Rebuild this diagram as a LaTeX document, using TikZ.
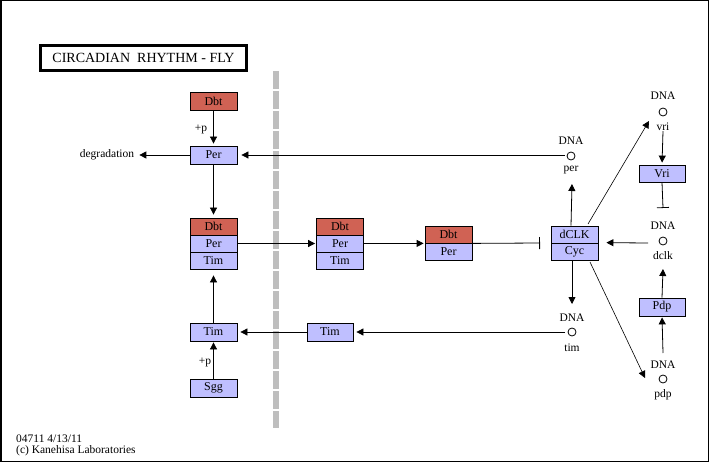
\documentclass[tikz,border=0pt]{standalone}
\usepackage{fontspec}
\setmainfont{Liberation Serif}
\usetikzlibrary{arrows.meta}
\definecolor{kred}{RGB}{208,98,84}
\definecolor{klav}{RGB}{191,191,255}
\definecolor{kgray}{RGB}{190,190,190}
\begin{document}
\begin{tikzpicture}[x=1pt,y=-1pt,
  gbox/.style={draw, line width=0.8pt, minimum width=47pt, minimum height=17pt, inner sep=0pt, font=\fontsize{12}{12}\selectfont, fill=klav},
  rbox/.style={gbox, fill=kred},
  lab/.style={font=\fontsize{11.5}{12}\selectfont, inner sep=0pt},
  dna/.style={circle, draw, line width=0.8pt, fill=white, minimum size=8pt, inner sep=0pt},
  arr/.style={-{Triangle[length=7pt,width=7pt]}, line width=0.8pt, shorten >=2pt},
  inh/.style={-{Bar[width=12pt]}, line width=0.8pt}]
\useasboundingbox (0,0) rectangle (709,462);
\draw[line width=1.5pt] (0.75,0.75) rectangle (708.25,461.25);
% title
\node[draw, line width=3pt, minimum width=206pt, minimum height=25pt, inner sep=0pt, font=\fontsize{14}{14}\selectfont] (title) at (143.5,58) {CIRCADIAN\ \ RHYTHM - FLY};
% membrane bar
\draw[kgray, line width=6pt, dash pattern=on 18pt off 2pt] (276,71) -- (276,428);
% left column
\node[rbox, minimum height=18pt] (dbt0) at (213.5,101) {Dbt};
\node[gbox, minimum height=18pt] (per0) at (213.5,155) {Per};
\node[lab] (p1) at (201,129) {+p};
\node[lab] (deg) at (107,155) {degradation};
\node[rbox] (c1d) at (213.5,226.5) {Dbt};
\node[gbox] (c1p) at (213.5,243.5) {Per};
\node[gbox] (c1t) at (213.5,260.5) {Tim};
\node[gbox, minimum height=18pt] (timl) at (213.5,332) {Tim};
\node[lab] (p2) at (205,362) {+p};
\node[gbox, minimum height=18pt] (sgg) at (213.5,388) {Sgg};
% middle
\node[rbox] (c2d) at (340,226.5) {Dbt};
\node[gbox] (c2p) at (340,243.5) {Per};
\node[gbox] (c2t) at (340,260.5) {Tim};
\node[gbox, minimum height=18pt, minimum width=46pt] (timm) at (330,332) {Tim};
\node[rbox] (c3d) at (448.5,234.5) {Dbt};
\node[gbox] (c3p) at (448.5,251.5) {Per};
\node[gbox] (clk) at (574.5,234.5) {dCLK};
\node[gbox] (cyc) at (574.5,251.5) {Cyc};
% DNA per
\node[dna] (cper) at (571,156) {};
\node[lab] (dper) at (571,141) {DNA};
\node[lab] (lper) at (571,170) {per};
% DNA tim
\node[dna] (ctim) at (572,332) {};
\node[lab] (dtim) at (572,318) {DNA};
\node[lab] (ltim) at (572,348) {tim};
% DNA vri
\node[dna] (cvri) at (663,112) {};
\node[lab] (dvri) at (663,96) {DNA};
\node[lab] (lvri) at (663,127) {vri};
\node[gbox, minimum width=46pt] (vri) at (662,173.5) {Vri};
% DNA dclk
\node[dna] (cdclk) at (663,241) {};
\node[lab] (ddclk) at (663,226) {DNA};
\node[lab] (ldclk) at (663,256) {dclk};
\node[gbox, minimum width=46pt, minimum height=18pt] (pdp) at (662,307) {Pdp};
% DNA pdp
\node[dna] (cpdp) at (663,379) {};
\node[lab] (dpdp) at (663,365) {DNA};
\node[lab] (lpdp) at (663,395) {pdp};
% coordinates
\coordinate (inhA) at (540,243);
\coordinate (perUp) at (572,184);
\coordinate (vriA) at (588,224);
\coordinate (vriB) at (649,121);
\coordinate (vriBar) at (663,208);
\coordinate (dclkA) at (648,243);
\coordinate (dclkUp) at (663,269);
\coordinate (pdpA) at (663,353);
\coordinate (timDn) at (572,304);
\coordinate (pdpDA) at (590,262);
\coordinate (pdpDB) at (645,378);
\coordinate (ctimA) at (565,332);
\coordinate (cperA) at (565,155);
% edges
\draw[arr] (dbt0) -- (per0);
\draw[arr, shorten >=5pt] (per0.west) -- (deg.east);
\draw[arr, shorten >=4pt] (cperA) -- (per0.east);
\draw[arr, shorten >=3pt] (per0.south) -- (c1d.north);
\draw[arr, shorten >=1pt] (c1p.east) -- (c2p.west);
\draw[arr, shorten >=1pt] (c2p.east) -- (c3d.south west);
\draw[inh] (c3d.south east) -- (inhA);
\draw[arr, shorten >=0pt] (clk.north -| cper) -- (perUp);
\draw[arr, shorten >=0pt, line width=0.6pt] (vriA) -- (vriB);
\draw[arr] (lvri.south) -- (vri.north);
\draw[inh] (vri.south) -- (vriBar);
\draw[arr, shorten >=8pt] (dclkA) -- (cyc.north east);
\draw[arr, shorten >=0pt] (pdp.north) -- (dclkUp);
\draw[arr, shorten >=1pt] (pdpA) -- (pdp.south);
\draw[arr, shorten >=0pt] (cyc.south -| ctim) -- (timDn);
\draw[arr, shorten >=0pt, line width=0.6pt] (pdpDA) -- (pdpDB);
\draw[arr, shorten >=3pt] (ctimA) -- (timm.east);
\draw[arr, shorten >=3pt] (timm.west) -- (timl.east);
\draw[arr, shorten >=6pt] (timl.north) -- (c1t.south);
\draw[arr, shorten >=1pt] (sgg.north) -- (timl.south);
% footer
\node[lab, anchor=west] (f1) at (16,439) {04711 4/13/11};
\node[lab, anchor=west] (f2) at (16,451) {(c) Kanehisa Laboratories};
\end{tikzpicture}
\end{document}
